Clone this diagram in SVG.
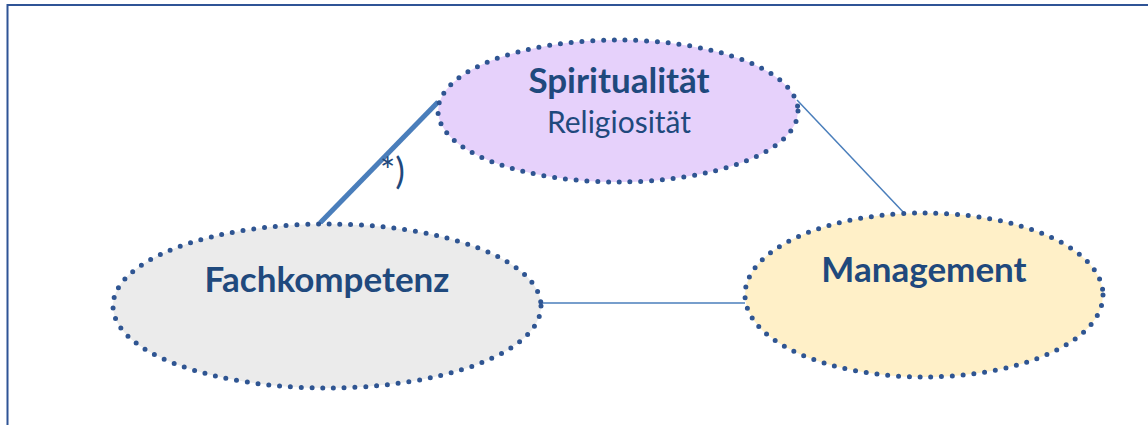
<svg xmlns="http://www.w3.org/2000/svg" width="1148" height="425" viewBox="0 0 1148 425">
  <style>
    .node { stroke: #2f5592; stroke-width: 5; stroke-linecap: round; stroke-dasharray: 0 10.8; }
    .title { font-family: Lato, "Open Sans", "Liberation Sans", sans-serif; font-weight: bold; fill: #1f497d; text-anchor: middle; font-size: 35px; }
    .sub { font-family: Lato, "Open Sans", "Liberation Sans", sans-serif; fill: #1f497d; text-anchor: middle; font-size: 30px; }
    .conn { stroke: #4a7ebb; fill: none; }
  </style>
  <rect x="0" y="0" width="1148" height="425" fill="#ffffff"/>
  <rect id="frame" x="7.5" y="5" width="1160" height="440" fill="none" stroke="#2f5496" stroke-width="2"/>
  <g id="connectors">
    <line class="conn" x1="438" y1="102" x2="320" y2="223" stroke-width="5"/>
    <line class="conn" x1="797" y1="100" x2="905" y2="214" stroke-width="1.5"/>
    <line class="conn" x1="533" y1="303" x2="745" y2="303" stroke-width="1.5"/>
    <text x="380" y="184" font-family="Lato, 'Open Sans', 'Liberation Sans', sans-serif" font-size="36" fill="#1f497d">*)</text>
  </g>
  <g id="spiritualitaet">
    <ellipse class="node" cx="618" cy="111" rx="180" ry="71" fill="#e6d1fb"/>
    <text class="title" x="619" y="93">Spiritualität</text>
    <text class="sub" x="619" y="133">Religiosität</text>
  </g>
  <g id="management">
    <ellipse class="node" cx="924" cy="295" rx="179" ry="82" fill="#fff0c8"/>
    <text class="title" x="924" y="282">Management</text>
  </g>
  <g id="fachkompetenz">
    <ellipse class="node" cx="327" cy="306" rx="214" ry="82" fill="#ebebeb"/>
    <text class="title" x="327" y="292">Fachkompetenz</text>
  </g>
</svg>
